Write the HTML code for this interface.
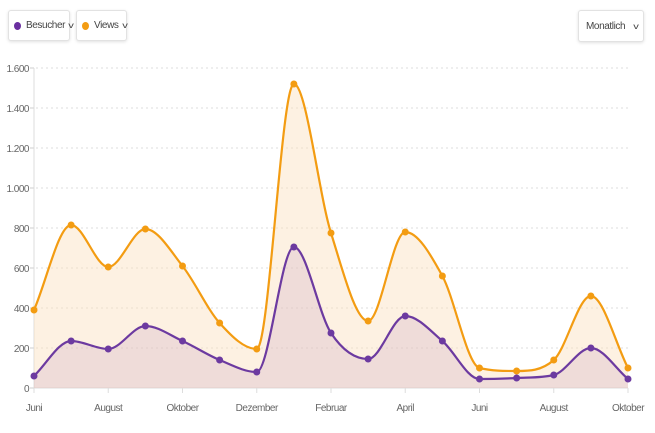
<!DOCTYPE html>
<html><head><meta charset="utf-8"><style>
body{margin:0;width:655px;height:433px;background:#fff;font-family:"Liberation Sans",sans-serif;overflow:hidden;position:relative}
.btn{position:absolute;top:10px;height:31px;border:1px solid #e2e2e2;border-radius:3px;box-shadow:0 1px 3px rgba(0,0,0,.12);background:#fff;font-size:10px;color:#444;display:flex;align-items:center;box-sizing:border-box;padding:0 5px;letter-spacing:-.4px;white-space:nowrap}
.dot{width:7px;height:8px;border-radius:50%;display:inline-block;margin-right:5px;flex-shrink:0}
.chev{margin-left:4px;font-size:8px;transform:scaleX(1.4);display:inline-block}
</style></head><body>
<div class="btn" style="left:8px;width:62px"><span class="dot" style="background:#6a2fa0"></span>Besucher<span class="chev">v</span></div>
<div class="btn" style="left:76px;width:51px"><span class="dot" style="background:#f39c12"></span>Views<span class="chev">v</span></div>
<div class="btn" style="left:578px;width:66px;height:32px;padding-left:7px">Monatlich<span class="chev" style="margin-left:9px">v</span></div>
<svg id="c" width="655" height="433" style="position:absolute;left:0;top:0"></svg>
<script>
const categories=["Juni","Juli","August","September","Oktober","November","Dezember","Januar","Februar","März","April","Mai","Juni","Juli","August","September","Oktober"];
const views=[390,815,605,795,610,325,195,1520,775,335,780,560,100,85,140,460,100];
const besucher=[60,235,195,310,235,140,80,705,275,145,360,235,45,50,65,200,45];
const yTicks=[0,200,400,600,800,1000,1200,1400,1600];
const yLabels=["0","200","400","600","800","1.000","1.200","1.400","1.600"];
const x0=34,x1=628,yb=388,yt=68,ymax=1600;
const X=i=>x0+i*(x1-x0)/(categories.length-1);
const Y=v=>yb-v/ymax*(yb-yt);
const svg=document.getElementById('c');const NS='http://www.w3.org/2000/svg';
function mk(t,a,p){const e=document.createElementNS(NS,t);for(const k in a)e.setAttribute(k,a[k]);(p||svg).appendChild(e);return e;}
yTicks.forEach((t,i)=>{
 if(t>0){const g=mk('line',{x1:36,x2:628,y1:Y(t),y2:Y(t),stroke:'#ddd','stroke-dasharray':'2,3'});
 
 }
 const l=mk('text',{x:29,y:Y(t)+4,'text-anchor':'end','font-size':'10',fill:'#666','font-family':'Liberation Sans,sans-serif','letter-spacing':'-0.5'});l.textContent=yLabels[i];
 
 
 mk('line',{x1:30,x2:34,y1:Y(t),y2:Y(t),stroke:'#ccc'});
});
mk('line',{x1:34,x2:34,y1:yt,y2:yb,stroke:'#ddd'});
mk('line',{x1:34,x2:628,y1:yb,y2:yb,stroke:'#ddd'});
function mono(vals){
 const n=vals.length,xs=vals.map((_,i)=>X(i)),ys=vals.map(Y);const d=[],m=[];
 for(let i=0;i<n-1;i++)d.push((ys[i+1]-ys[i])/(xs[i+1]-xs[i]));
 for(let i=0;i<n;i++){if(i==0)m.push(d[0]);else if(i==n-1)m.push(d[n-2]);else m.push(d[i-1]*d[i]<=0?0:(()=>{const s=(d[i-1]+d[i])/2;return Math.sign(s)*Math.min(Math.abs(s),3*Math.abs(d[i-1]),3*Math.abs(d[i]));})());}
 let p='M'+xs[0]+','+ys[0];
 for(let i=0;i<n-1;i++){const h=(xs[i+1]-xs[i])/3;p+=' C'+(xs[i]+h)+','+(ys[i]+m[i]*h)+' '+(xs[i+1]-h)+','+(ys[i+1]-m[i+1]*h)+' '+xs[i+1]+','+ys[i+1];}
 return p;
}
function series(vals,color,fill,name){
 const p=mono(vals);
 const a=mk('path',{d:p+' L'+X(vals.length-1)+','+yb+' L'+X(0)+','+yb+'Z',fill:fill});
 
 
 const l=mk('path',{d:p,fill:'none',stroke:color,'stroke-width':2.2});
 
 
 vals.forEach((v,i)=>{const c=mk('circle',{cx:X(i),cy:Y(v),r:3.5,fill:color});
 
 });
}
series(views,'#f39c12','rgba(250,225,190,0.45)','views');
series(besucher,'#6c3aa0','rgba(200,160,190,0.25)','besucher');
categories.forEach((c,i)=>{if(i%2)return;
 mk('line',{x1:X(i),x2:X(i),y1:yb,y2:yb+5,stroke:'#ddd'});
 const t=mk('text',{x:X(i),y:411,'text-anchor':'middle','font-size':'10',fill:'#666','font-family':'Liberation Sans,sans-serif','letter-spacing':'-0.5'});t.textContent=c;
 
 
});
</script>
</body></html>
